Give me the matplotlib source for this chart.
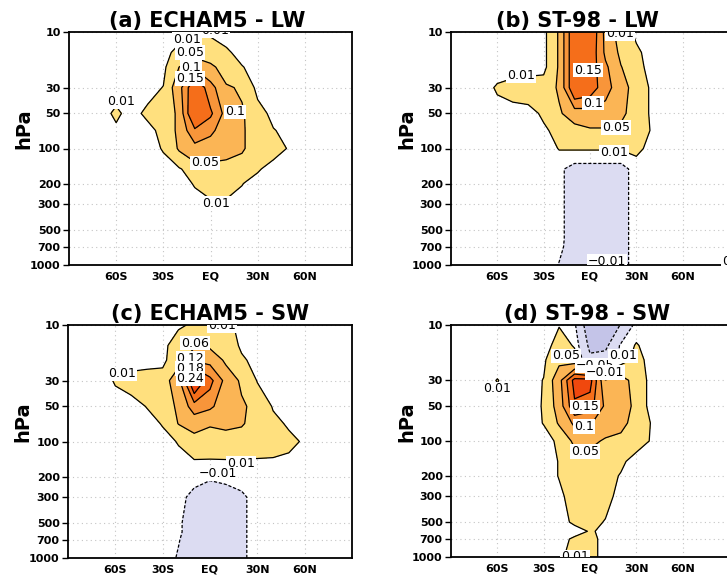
import numpy as np
import matplotlib.pyplot as plt
from matplotlib.ticker import NullLocator

plt.rcParams['lines.dashed_pattern'] = [2.5, 1.5]

# grid of the fields: latitude columns and pressure rows (hPa)
lats = [-90, -80, -70, -60, -50, -40, -30, -20, -10, 0, 10, 20, 30, 40, 50, 60, 70, 80, 90]
plevs = [10, 15, 20, 30, 50, 70, 100, 150, 200, 300, 500, 600, 700, 1000]

# (a) ECHAM5 - LW
lw_echam5 = [
    [0, 0, 0, 0, 0, 0, 0, .004, .007, .006, .003, 0, 0, 0, 0, 0, 0, 0, 0],
    [0, 0, 0, 0, 0, 0, .005, .015, .03, .025, .013, .004, 0, 0, 0, 0, 0, 0, 0],
    [0, 0, 0, 0, 0, 0, .002, .05, .09, .06, .03, .011, .003, 0, 0, 0, 0, 0, 0],
    [0, 0, 0, 0, 0, 0, .011, .08, .2, .12, .055, .045, 0, 0, 0, 0, 0, 0, 0],
    [0, 0, 0, .015, 0, .017, .02, .06, .22, .16, .08, .055, .025, 0, 0, 0, 0, 0, 0],
    [0, 0, 0, .005, 0, 0, .02, .06, .14, .11, .075, .055, .03, .012, 0, 0, 0, 0, 0],
    [0, 0, 0, 0, 0, 0, .012, .055, .08, .075, .065, .055, .03, .02, .008, 0, 0, 0, 0],
    [0, 0, 0, 0, 0, 0, 0, .006, .03, .035, .035, .03, .013, 0, 0, 0, 0, 0, 0],
    [0, 0, 0, 0, 0, 0, 0, 0, .012, .02, .02, .011, 0, 0, 0, 0, 0, 0, 0],
    [0, 0, 0, 0, 0, 0, 0, 0, 0, .006, .006, 0, 0, 0, 0, 0, 0, 0, 0],
    [0, 0, 0, 0, 0, 0, 0, 0, 0, 0, 0, 0, 0, 0, 0, 0, 0, 0, 0],
    [0, 0, 0, 0, 0, 0, 0, 0, 0, 0, 0, 0, 0, 0, 0, 0, 0, 0, 0],
    [0, 0, 0, 0, 0, 0, 0, 0, 0, 0, 0, 0, 0, 0, 0, 0, 0, 0, 0],
    [0, 0, 0, 0, 0, 0, 0, 0, 0, 0, 0, 0, 0, 0, 0, 0, 0, 0, 0],
]

# (b) ST-98 - LW
lw_st98 = [
    [0, 0, 0, 0, 0, 0, 0, .055, .2, .2, .085, .025, .005, 0, 0, 0, 0, 0, 0],
    [0, 0, 0, 0, 0, 0, 0, .055, .2, .19, .09, .04, .015, 0, 0, 0, 0, 0, 0],
    [0, 0, 0, 0, 0, 0, 0, .055, .2, .18, .11, .052, .02, 0, 0, 0, 0, 0, 0],
    [0, 0, 0, .013, .02, .025, .03, .055, .2, .18, .12, .07, .03, .005, 0, 0, 0, 0, 0],
    [0, 0, 0, 0, 0, 0, .015, .045, .07, .075, .075, .06, .03, .005, 0, 0, 0, 0, 0],
    [0, 0, 0, 0, 0, 0, .005, .02, .035, .045, .045, .04, .025, .008, 0, 0, 0, 0, 0],
    [0, 0, 0, 0, 0, 0, 0, .011, .012, .012, .012, .012, .015, .004, 0, 0, 0, 0, 0],
    [0, 0, 0, 0, 0, 0, 0, -.005, -.02, -.02, -.02, -.02, 0, 0, 0, 0, 0, 0, 0],
    [0, 0, 0, 0, 0, 0, 0, -.005, -.02, -.02, -.02, -.02, 0, 0, 0, 0, 0, 0, 0],
    [0, 0, 0, 0, 0, 0, 0, -.005, -.02, -.02, -.02, -.02, 0, 0, 0, 0, 0, 0, 0],
    [0, 0, 0, 0, 0, 0, 0, -.005, -.02, -.02, -.02, -.02, 0, 0, 0, 0, 0, 0, 0],
    [0, 0, 0, 0, 0, 0, 0, -.005, -.02, -.02, -.02, -.02, 0, 0, 0, 0, 0, 0, 0],
    [0, 0, 0, 0, 0, 0, 0, -.006, -.02, -.02, -.02, -.02, 0, 0, 0, 0, 0, 0, 0],
    [0, 0, 0, 0, 0, 0, 0, -.011, -.02, -.02, -.02, -.02, 0, 0, 0, 0, 0, 0, 0],
]

# (c) ECHAM5 - SW
sw_echam5 = [
    [0, 0, 0, 0, 0, 0, 0, .005, .015, .02, .015, .005, 0, 0, 0, 0, 0, 0, 0],
    [0, 0, 0, 0, 0, 0, 0, .03, .05, .05, .03, .005, 0, 0, 0, 0, 0, 0, 0],
    [0, 0, 0, 0, 0, 0, 0, .04, .11, .1, .05, .015, 0, 0, 0, 0, 0, 0, 0],
    [0, 0, 0, .012, .02, .025, .03, .1, .31, .2, .1, .05, .008, 0, 0, 0, 0, 0, 0],
    [0, 0, 0, 0, 0, .011, .03, .07, .15, .13, .09, .07, .04, .007, 0, 0, 0, 0, 0],
    [0, 0, 0, 0, 0, 0, .012, .062, .08, .065, .07, .065, .04, .02, .005, 0, 0, 0, 0],
    [0, 0, 0, 0, 0, 0, 0, .012, .04, .035, .04, .035, .03, .025, .02, .005, 0, 0, 0],
    [0, 0, 0, 0, 0, 0, 0, 0, .005, .005, .005, .005, .005, .005, 0, 0, 0, 0, 0],
    [0, 0, 0, 0, 0, 0, 0, 0, -.005, -.008, -.005, 0, 0, 0, 0, 0, 0, 0, 0],
    [0, 0, 0, 0, 0, 0, 0, -.005, -.015, -.02, -.02, -.015, 0, 0, 0, 0, 0, 0, 0],
    [0, 0, 0, 0, 0, 0, 0, -.007, -.02, -.02, -.02, -.015, 0, 0, 0, 0, 0, 0, 0],
    [0, 0, 0, 0, 0, 0, 0, -.007, -.02, -.02, -.02, -.015, 0, 0, 0, 0, 0, 0, 0],
    [0, 0, 0, 0, 0, 0, 0, -.009, -.02, -.02, -.02, -.015, 0, 0, 0, 0, 0, 0, 0],
    [0, 0, 0, 0, 0, 0, 0, -.012, -.02, -.02, -.02, -.015, 0, 0, 0, 0, 0, 0, 0],
]

# (d) ST-98 - SW
sw_st98 = [
    [0, 0, 0, 0, 0, 0, 0, .009, -.005, -.08, -.08, -.048, 0, 0, 0, 0, 0, 0, 0],
    [0, 0, 0, 0, 0, 0, 0, .02, .008, -.06, -.06, -.005, .012, 0, 0, 0, 0, 0, 0],
    [0, 0, 0, 0, 0, 0, .005, .04, .02, -.04, -.03, -.005, .02, 0, 0, 0, 0, 0, 0],
    [0, 0, 0, .011, 0, 0, .011, .08, .22, .22, .052, .07, .03, 0, 0, 0, 0, 0, 0],
    [0, 0, 0, 0, 0, 0, .012, .07, .19, .17, .09, .09, .03, 0, 0, 0, 0, 0, 0],
    [0, 0, 0, 0, 0, 0, .011, .055, .11, .105, .07, .065, .03, .008, 0, 0, 0, 0, 0],
    [0, 0, 0, 0, 0, 0, 0, .015, .06, .06, .045, .035, .02, .008, 0, 0, 0, 0, 0],
    [0, 0, 0, 0, 0, 0, 0, .011, .025, .03, .025, .015, 0, 0, 0, 0, 0, 0, 0],
    [0, 0, 0, 0, 0, 0, 0, .011, .025, .025, .02, .008, 0, 0, 0, 0, 0, 0, 0],
    [0, 0, 0, 0, 0, 0, 0, .005, .02, .025, .02, 0, 0, 0, 0, 0, 0, 0, 0],
    [0, 0, 0, 0, 0, 0, 0, 0, .015, .02, .008, 0, 0, 0, 0, 0, 0, 0, 0],
    [0, 0, 0, 0, 0, 0, 0, 0, 0, .012, .006, 0, 0, 0, 0, 0, 0, 0, 0],
    [0, 0, 0, 0, 0, 0, 0, 0, .015, .015, .005, 0, 0, 0, 0, 0, 0, 0, 0],
    [0, 0, 0, 0, 0, 0, 0, .005, .02, .015, .005, 0, 0, 0, 0, 0, 0, 0, 0],
]

titles = ['(a) ECHAM5 - LW', '(b) ST-98 - LW', '(c) ECHAM5 - SW', '(d) ST-98 - SW']
fields = [lw_echam5, lw_st98, sw_echam5, sw_st98]
contour_levels = [
    [0.01, 0.05, 0.1, 0.15],
    [-0.01, 0.01, 0.05, 0.1, 0.15],
    [-0.01, 0.01, 0.06, 0.12, 0.18, 0.24, 0.30],
    [-0.05, -0.01, 0.01, 0.05, 0.1, 0.15, 0.2],
]

# contour labels: (text, lat, hPa)
labels = [
    [('0.01', 2.7, 9.8), ('0.01', -15, 11.5), ('0.05', -13, 15.1), ('0.1', -12.5, 20.2),
     ('0.15', -13, 25.0), ('0.1', 15.7, 48.6), ('0.05', -3.7, 133), ('0.01', 3.7, 294),
     ('0.01', -57, 39.5)],
    [('0.01', 19.5, 10.4), ('0.01', -44.7, 23.8), ('0.15', -1.3, 21.2), ('0.1', 2, 40.7),
     ('0.05', 17, 65.6), ('0.01', 15.6, 109), ('\u22120.01', 11, 930)],
    [('0.01', 7.8, 10.1), ('0.06', -9.4, 14.3), ('0.12', -12.5, 19.2), ('0.18', -12.5, 23.8),
     ('0.24', -12.5, 29), ('0.01', -55.7, 26.3), ('0.01', 19.8, 155), ('\u22120.01', 5.2, 190)],
    [('\u22120.05', 3.3, 22.5), ('0.05', -15.5, 18.5), ('0.01', 21.4, 18.5),
     ('\u22120.01', 9.7, 25.7), ('0.15', -3.2, 50.9), ('0.1', -3.9, 75), ('0.05', -3.2, 124),
     ('0.01', -60.2, 35.6), ('0.01', -9.7, 1000)],
]

Y, LO, O, DO, RO, R = '#ffe07e', '#fbb555', '#f8953a', '#f56e1a', '#f0480e', '#e4200a'
LAV, DLAV = '#dcdcf2', '#c4c4e8'
fill_colors = [
    ['none', Y, LO, O, DO],
    [LAV, 'none', Y, LO, O, DO],
    [LAV, 'none', Y, LO, O, DO, RO, R],
    [DLAV, LAV, 'none', Y, LO, O, DO, RO],
]

W, H = 727, 578
boxes = [(69, 32, 283, 233), (451, 32, 278, 233), (68, 325, 284, 233), (451, 325, 278, 232)]
title_x = [0.49, 0.455, 0.5, 0.49]

ytick_vals = [10, 30, 50, 100, 200, 300, 500, 700, 1000]
xtick_vals = [-60, -30, 0, 30, 60]
xtick_labels = ['60S', '30S', 'EQ', '30N', '60N']

fig = plt.figure(figsize=(W / 100, H / 100), dpi=100)

for i in range(4):
    x0, y0, w, h = boxes[i]
    ax = fig.add_axes([x0 / W, 1 - (y0 + h) / H, w / W, h / H])
    z = np.array(fields[i])
    lev = contour_levels[i]
    ax.contourf(lats, plevs, z, levels=[-1] + lev + [1], colors=fill_colors[i], zorder=1)
    styles = ['dashed' if v < 0 else 'solid' for v in lev]
    ax.contour(lats, plevs, z, levels=lev, colors='k', linewidths=0.9,
               linestyles=styles, zorder=2)

    for txt, la, p in labels[i]:
        t = ax.text(la, p, txt, ha='center', va='center', fontsize=9, zorder=5,
                    bbox=dict(facecolor='white', edgecolor='none', pad=0.6))
        t.set_clip_on(True)
        t.set_clip_path(ax.patch)

    ax.set_yscale('log')
    ax.set_ylim(1000, 10)
    ax.set_xlim(-90, 90)
    ax.set_yticks(ytick_vals)
    ax.set_yticklabels([str(v) for v in ytick_vals])
    ax.yaxis.set_minor_locator(NullLocator())
    ax.set_xticks(xtick_vals)
    ax.set_xticklabels(xtick_labels)
    ax.tick_params(axis='y', length=4, width=1, pad=2, labelsize=8)
    ax.tick_params(axis='x', length=0, pad=5, labelsize=8)
    for lab in ax.get_xticklabels() + ax.get_yticklabels():
        lab.set_fontweight('bold')
    ax.grid(True, color='#c4c4c4', linestyle=(0, (1, 3)), linewidth=0.8)
    ax.set_axisbelow(True)
    for s in ax.spines.values():
        s.set_linewidth(1.3)

    ax.set_title(titles[i], fontsize=15, fontweight='bold', x=title_x[i], pad=3.5)
    ax.text(-0.16, 0.585, 'hPa', transform=ax.transAxes, rotation=90,
            ha='center', va='center', fontsize=14, fontweight='bold')

# label cut by the right edge in (b)
fig.axes[1].text(85.5, 930, '0.01', ha='left', va='center', fontsize=9, zorder=5,
                 bbox=dict(facecolor='white', edgecolor='none', pad=0.6))

fig.savefig('out.png', dpi=100)
